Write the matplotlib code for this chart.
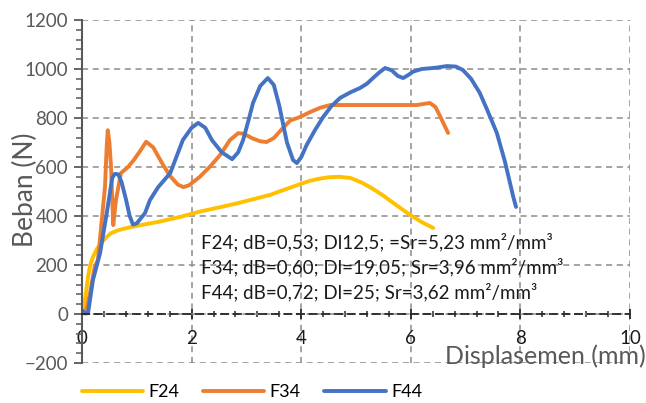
import numpy as np
import matplotlib
matplotlib.use('Agg')
import matplotlib.pyplot as plt
from matplotlib.ticker import MultipleLocator, AutoMinorLocator

plt.rcParams['font.family'] = ['Lato', 'DejaVu Sans']

# F24 (kuning)
x_f24 = [0, 0.04, 0.08, 0.11, 0.15, 0.2, 0.27, 0.35, 0.44, 0.53, 0.66, 0.89, 1.1, 1.39, 1.79, 2.15, 2.5, 2.8, 3.1, 3.43, 3.7, 3.98, 4.15, 4.3, 4.5, 4.7, 4.9, 5.1, 5.3, 5.5, 5.7, 5.99, 6.2, 6.41]
y_f24 = [0, 37, 100, 151, 200, 233, 265, 290, 312, 330, 342, 355, 364, 376, 396, 418, 435, 450, 467, 486, 508, 530, 543, 551, 558, 560, 555, 537, 512, 483, 450, 404, 375, 351]

# F34 (oranye)
x_f34 = [0.07, 0.15, 0.23, 0.29, 0.36, 0.42, 0.45, 0.47, 0.5, 0.53, 0.57, 0.62, 0.71, 0.84, 0.95, 1.06, 1.17, 1.3, 1.45, 1.6, 1.75, 1.85, 1.95, 2.15, 2.35, 2.52, 2.7, 2.85, 2.95, 3.1, 3.25, 3.37, 3.5, 3.67, 3.8, 3.98, 4.16, 4.35, 4.53, 4.89, 5.5, 6.11, 6.25, 6.35, 6.45, 6.55, 6.68]
y_f34 = [4, 90, 192, 220, 380, 520, 680, 750, 700, 600, 363, 465, 575, 600, 630, 665, 703, 680, 620, 565, 528, 518, 525, 560, 605, 649, 710, 738, 736, 718, 705, 702, 718, 760, 790, 804, 824, 842, 853, 853, 853, 853, 858, 861, 845, 800, 739]

# F44 (biru)
x_f44 = [0, 0.06, 0.11, 0.2, 0.33, 0.47, 0.55, 0.6, 0.66, 0.72, 0.8, 0.87, 0.93, 1.0, 1.15, 1.24, 1.39, 1.61, 1.84, 2.0, 2.12, 2.25, 2.37, 2.55, 2.74, 2.85, 2.94, 3.05, 3.12, 3.25, 3.39, 3.5, 3.6, 3.74, 3.85, 3.92, 4.0, 4.1, 4.25, 4.4, 4.55, 4.71, 4.9, 5.07, 5.2, 5.31, 5.42, 5.53, 5.65, 5.76, 5.86, 5.95, 6.05, 6.2, 6.45, 6.66, 6.82, 6.95, 7.1, 7.26, 7.4, 7.57, 7.72, 7.87, 7.92]
y_f44 = [16, 2, 4, 139, 249, 437, 555, 572, 570, 540, 470, 400, 365, 370, 412, 465, 518, 575, 710, 760, 780, 760, 710, 660, 632, 660, 710, 800, 861, 930, 963, 935, 850, 700, 629, 616, 640, 690, 750, 804, 848, 882, 905, 922, 940, 963, 985, 1004, 995, 972, 963, 975, 990, 1000, 1005, 1012, 1010, 996, 960, 902, 830, 739, 620, 478, 437]

labels = ['F24', 'F34', 'F44']
colors = ['#FFC000', '#ED7D31', '#4472C4']

notes = ['F24; dB=0,53; Dl12,5; =Sr=5,23 mm²/mm³',
         'F34; dB=0,60; Dl=19,05; Sr=3,96 mm²/mm³',
         'F44; dB=0,72; Dl=25; Sr=3,62 mm²/mm³']

fig = plt.figure(figsize=(6.46, 4.03), dpi=100)
ax = fig.add_axes([82 / 646, 1 - 363 / 403, 548 / 646, 343 / 403])

for xs, ys, lab, c in zip([x_f24, x_f34, x_f44], [y_f24, y_f34, y_f44], labels, colors):
    ax.plot(xs, ys, color=c, lw=2.8, label=lab, solid_capstyle='round', solid_joinstyle='round')

ax.set_xlim(0, 10)
ax.set_ylim(-200, 1200)
ax.xaxis.set_major_locator(MultipleLocator(2))
ax.yaxis.set_major_locator(MultipleLocator(200))
ax.xaxis.set_minor_locator(AutoMinorLocator(5))
ax.yaxis.set_minor_locator(AutoMinorLocator(5))

ax.grid(True, which='major', color='#8c8c8c', ls=(0, (4, 3)), lw=1.1)
ax.set_axisbelow(True)

for s in ['top', 'right']:
    ax.spines[s].set_visible(False)
ax.spines['left'].set_color('#595959')
ax.spines['left'].set_linewidth(1.5)
ax.spines['bottom'].set_position(('data', 0))
ax.spines['bottom'].set_color('#262626')
ax.spines['bottom'].set_linestyle((0, (4, 3)))
ax.spines['bottom'].set_linewidth(1.3)

ax.tick_params(axis='y', which='major', direction='out', length=6, width=1.3, color='#595959',
               labelsize=13.5, labelcolor='#595959', pad=4)
ax.tick_params(axis='y', which='minor', direction='out', length=4, width=1.1, color='#595959')
ax.tick_params(axis='x', which='major', direction='inout', length=7, width=1.3, color='#262626',
               labelsize=13.5, labelcolor='#1a1a1a', pad=8)
ax.tick_params(axis='x', which='minor', direction='inout', length=5, width=1.1, color='#262626')

for i, t in enumerate(notes):
    ax.text(2.18, 294 - 102 * i, t, fontsize=13.5, color='#1a1a1a', va='center', ha='left')

fig.text(1.0, 1 - 356 / 403, 'Displasemen (mm)', fontsize=18, color='#595959', ha='right', va='center')
fig.text(25 / 646, 1 - 190 / 403, 'Beban (N)', fontsize=19, color='#595959', ha='center', va='center', rotation=90)

fig.legend(loc='center', bbox_to_anchor=(252 / 646, 1 - 392 / 403), ncol=3, frameon=False,
           fontsize=13, handlelength=3.4, columnspacing=1.3, handletextpad=0.3)

fig.savefig('out.png', dpi=100)
